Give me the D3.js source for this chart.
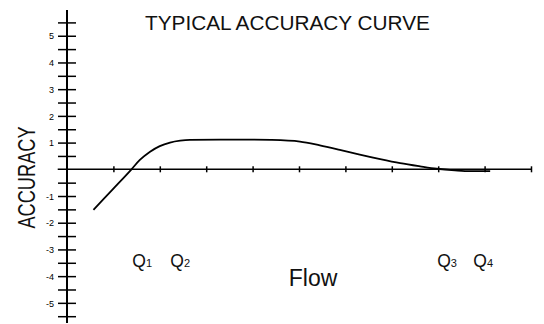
<!DOCTYPE html>
<html>
<head>
<meta charset="utf-8">
<script src="https://cdn.jsdelivr.net/npm/d3@7"></script>
<style>
  html, body { margin: 0; padding: 0; background: #fff; }
  svg { display: block; font-family: "Liberation Sans", Arial, sans-serif; }
</style>
</head>
<body>
<svg id="chart" width="544" height="324"></svg>
<script>
// ---- data ----
const flow = [0.57, 0.98, 1.39, 1.57, 1.79, 2.0, 2.22, 2.44, 2.65, 3.3, 4.0, 4.4, 5.02, 5.45, 5.88, 6.31, 6.75, 7.18, 7.61, 7.97, 8.36, 8.69, 9.12];
const accuracy = [-1.52, -0.76, 0.0, 0.35, 0.66, 0.87, 1.0, 1.07, 1.10, 1.11, 1.11, 1.10, 1.04, 0.90, 0.73, 0.55, 0.38, 0.23, 0.11, 0.02, -0.04, -0.07, -0.07];
const yTickValues = [-5.5,-5,-4.5,-4,-3.5,-3,-2.5,-2,-1.5,-1,-0.5,0.5,1,1.5,2,2.5,3,3.5,4,4.5,5,5.5];
const yTickLabels = {"5":"5","4":"4","3":"3","2":"2","1":"1","-1":"-1","-2":"-2","-3":"-3","-4":"-4","-5":"-5"};
const xTickValues = [1,2,3,4,5,6,7,8,9,10];
const qNames = ["Q", "Q", "Q", "Q"];
const qSubs = ["1", "2", "3", "4"];
const qFlow = [1.62, 2.44, 8.19, 8.97];
const titleText = "TYPICAL ACCURACY CURVE";
const xTitle = "Flow";
const yTitle = "ACCURACY";

// ---- drawing ----
const svg = d3.select("#chart");
const x = d3.scaleLinear().domain([0, 10]).range([67, 531]);
const y = d3.scaleLinear().domain([-5.5, 5.5]).range([316.2, 22.4]);

// y axis
const yAxis = d3.axisLeft(y).tickValues(yTickValues).tickSize(9)
  .tickFormat(d => yTickLabels[String(d)] || "");
const gy = svg.append("g").attr("transform", `translate(${x(0)},0)`).call(yAxis);
gy.select(".domain").remove();
gy.selectAll(".tick line").attr("x1", -9).attr("x2", 9).attr("stroke", "#000").attr("stroke-width", 1.5);
gy.selectAll(".tick text").attr("x", -13).attr("dy", "0.35em").attr("font-size", 9)
  .attr("font-family", "Liberation Sans, Arial, sans-serif").attr("fill", "#000");
svg.append("line").attr("x1", x(0)).attr("x2", x(0)).attr("y1", 10).attr("y2", 323)
  .attr("stroke", "#000").attr("stroke-width", 2);

// x axis
const xAxis = d3.axisBottom(x).tickValues(xTickValues).tickSize(0).tickFormat("");
const gx = svg.append("g").attr("transform", `translate(0,${y(0)})`).call(xAxis);
gx.select(".domain").remove();
gx.selectAll(".tick line").attr("y1", -3).attr("y2", 3).attr("stroke", "#000").attr("stroke-width", 1.5);
svg.append("line").attr("x1", x(-0.2)).attr("x2", x(10)).attr("y1", y(0)).attr("y2", y(0))
  .attr("stroke", "#000").attr("stroke-width", 1.5);

// curve
const pts = flow.map((f, i) => [f, accuracy[i]]);
const line = d3.line().x(d => x(d[0])).y(d => y(d[1])).curve(d3.curveMonotoneX);
svg.append("path").datum(pts).attr("d", line).attr("fill", "none")
  .attr("stroke", "#000").attr("stroke-width", 1.8);

// title
svg.append("text").attr("x", 287.5).attr("y", 30).attr("text-anchor", "middle")
  .attr("font-size", 20.5).attr("textLength", 285).attr("lengthAdjust", "spacingAndGlyphs")
  .attr("fill", "#111").text(titleText);

// axis titles
svg.append("text").attr("x", 313).attr("y", 286).attr("text-anchor", "middle")
  .attr("font-size", 23).attr("fill", "#111").text(xTitle);
svg.append("text").attr("transform", "translate(35,177.5) rotate(-90) scale(1,1.28)")
  .attr("text-anchor", "middle").attr("font-size", 18.2).attr("fill", "#111").text(yTitle);

// Q labels
qNames.forEach((q, i) => {
  const t = svg.append("text").attr("x", x(qFlow[i])).attr("y", 267).attr("text-anchor", "middle")
    .attr("font-size", 17.5).attr("fill", "#111");
  t.append("tspan").text(q);
  t.append("tspan").attr("font-size", 11).text(qSubs[i]);
});
</script>
</body>
</html>
